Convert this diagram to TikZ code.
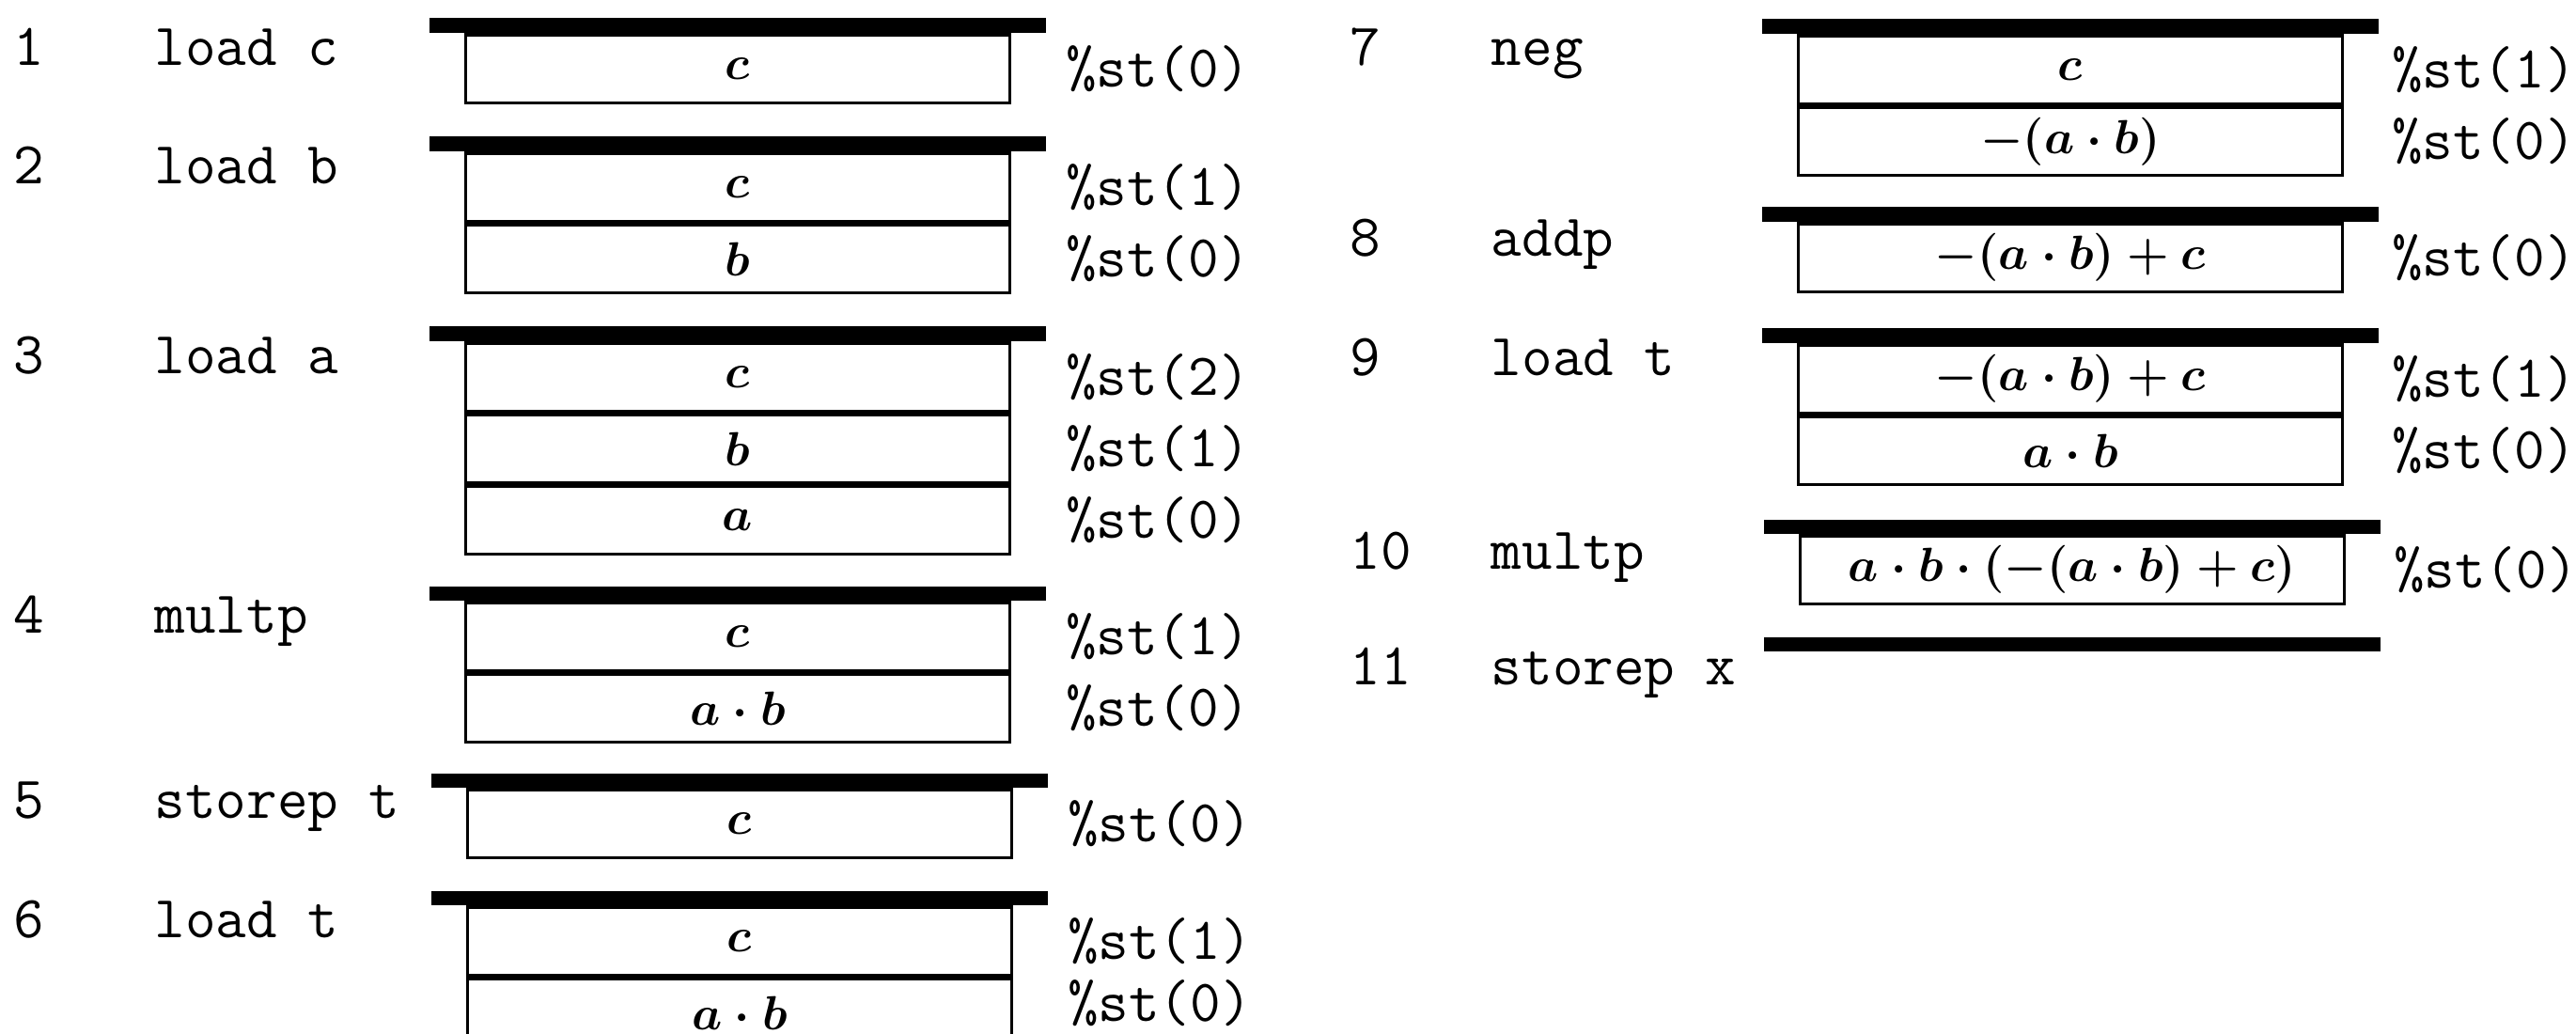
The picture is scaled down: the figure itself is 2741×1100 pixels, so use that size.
\RequirePackage{fix-cm}
\documentclass[tikz,border=0pt]{standalone}
\usepackage{fontspec}
\usetikzlibrary{positioning}

\begin{document}
\begin{tikzpicture}[x=0.01cm,y=-0.01cm,
  bar/.style={fill=black,inner sep=0pt,minimum height=0.15cm,minimum width=6.55cm},
  cell/.style={draw,line width=1pt,inner sep=0pt,minimum width=5.79cm,minimum height=0.725cm,font=\fontsize{14.5}{17}\selectfont\boldmath},
  instr/.style={anchor=base west,inner sep=0pt,font=\ttfamily\fontsize{18}{20}\selectfont},
  reg/.style={inner sep=0pt,font=\ttfamily\fontsize{18}{20}\selectfont}]
\clip (0,0) rectangle (2741,1100);
\fill[white] (0,0) rectangle (2741,1100);

% step numbers and instructions
\foreach \n/\x/\y/\t in {1/14/70/load c,2/14/195/load b,3/14/397/load a,4/14/673/multp,
  5/14/870/storep t,6/14/997/load t,7/1436/70/neg,8/1436/272/addp,9/1436/399/load t,
  10/1436/605/multp,11/1436/728/storep x}{
  \node[instr] (n\n) at (\x,\y) {\n};
  \node[instr,right=1.5cm of n\n.base west,anchor=base west] (i\n) {\t};
}

% left column
\node[bar] (b1) at (785,27) {};
\node[cell,below=0pt of b1] (c1a) {$c$};
\node[reg,right=0.57cm of c1a] (r1a) {\%st(0)};

\node[bar] (b2) at (785,153) {};
\node[cell,below=0pt of b2] (c2a) {$c$};
\node[cell,below=0pt of c2a] (c2b) {$b$};
\node[reg,right=0.57cm of c2a] (r2a) {\%st(1)};
\node[reg,right=0.57cm of c2b] (r2b) {\%st(0)};

\node[bar] (b3) at (785,355) {};
\node[cell,below=0pt of b3] (c3a) {$c$};
\node[cell,below=0pt of c3a] (c3b) {$b$};
\node[cell,below=0pt of c3b] (c3c) {$a$};
\node[reg,right=0.57cm of c3a] (r3a) {\%st(2)};
\node[reg,right=0.57cm of c3b] (r3b) {\%st(1)};
\node[reg,right=0.57cm of c3c] (r3c) {\%st(0)};

\node[bar] (b4) at (785,631) {};
\node[cell,below=0pt of b4] (c4a) {$c$};
\node[cell,below=0pt of c4a] (c4b) {$a\cdot b$};
\node[reg,right=0.57cm of c4a] (r4a) {\%st(1)};
\node[reg,right=0.57cm of c4b] (r4b) {\%st(0)};

\node[bar] (b5) at (787,830) {};
\node[cell,below=0pt of b5] (c5a) {$c$};
\node[reg,right=0.57cm of c5a] (r5a) {\%st(0)};

\node[bar] (b6) at (787,955) {};
\node[cell,below=0pt of b6] (c6a) {$c$};
\node[cell,below=0pt of c6a] (c6b) {$a\cdot b$};
\node[reg,right=0.57cm of c6a] (r6a) {\%st(1)};
\node[reg,right=0.57cm of c6b,yshift=0.1cm] (r6b) {\%st(0)};

% right column
\node[bar] (b7) at (2203,28) {};
\node[cell,below=0pt of b7] (c7a) {$c$};
\node[cell,below=0pt of c7a] (c7b) {$-(a\cdot b)$};
\node[reg,right=0.5cm of c7a] (r7a) {\%st(1)};
\node[reg,right=0.5cm of c7b] (r7b) {\%st(0)};

\node[bar] (b8) at (2203,228) {};
\node[cell,below=0pt of b8] (c8a) {$-(a\cdot b)+c$};
\node[reg,right=0.5cm of c8a] (r8a) {\%st(0)};

\node[bar] (b9) at (2203,357) {};
\node[cell,below=0pt of b9] (c9a) {$-(a\cdot b)+c$};
\node[cell,below=0pt of c9a] (c9b) {$a\cdot b$};
\node[reg,right=0.5cm of c9a] (r9a) {\%st(1)};
\node[reg,right=0.5cm of c9b] (r9b) {\%st(0)};

\node[bar] (b10) at (2205,560) {};
\node[cell,below=0pt of b10] (c10a) {$a\cdot b\cdot(-(a\cdot b)+c)$};
\node[reg,right=0.5cm of c10a] (r10a) {\%st(0)};

\node[bar] (b11) at (2205,685) {};

\end{tikzpicture}
\end{document}
